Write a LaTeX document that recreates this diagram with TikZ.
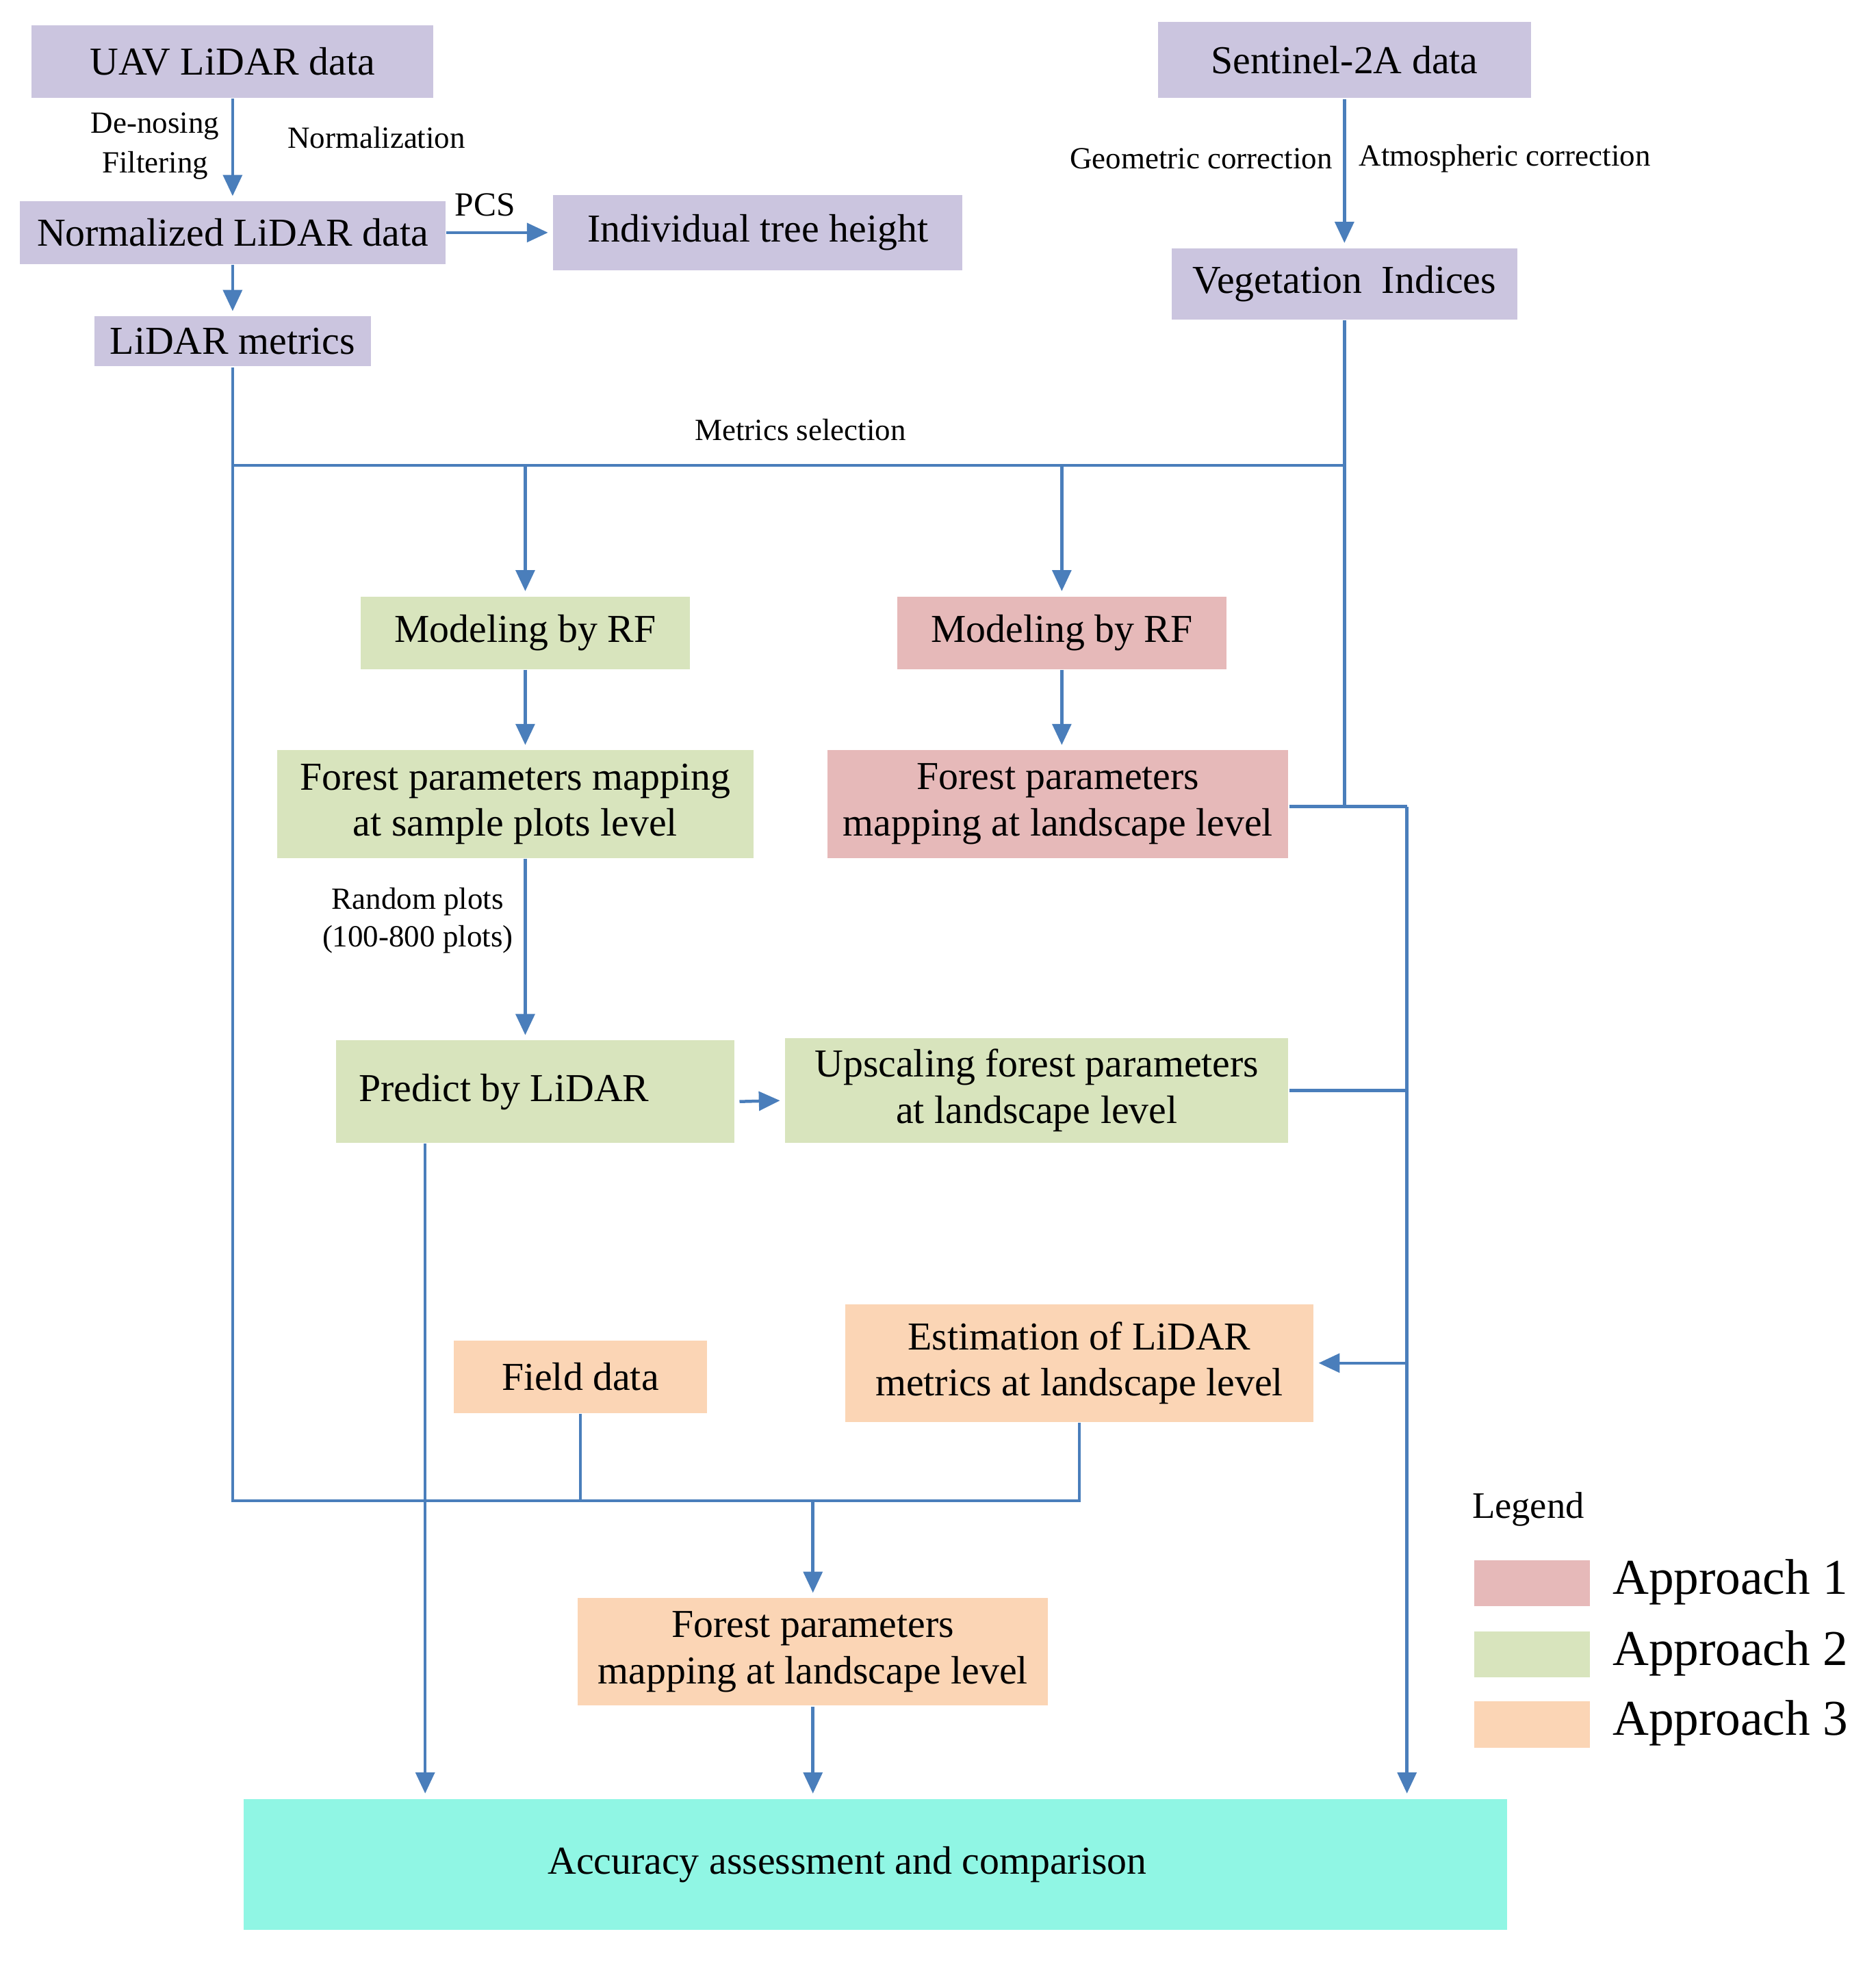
\documentclass[tikz,border=0pt]{standalone}
\usepackage{fontspec}
\setmainfont{Liberation Serif}
\usetikzlibrary{arrows.meta}

\definecolor{lavend}{HTML}{CBC5DF}
\definecolor{appone}{HTML}{E6B9B9}
\definecolor{apptwo}{HTML}{D8E4BD}
\definecolor{appthree}{HTML}{FBD5B5}
\definecolor{accfill}{HTML}{90F6E4}
\definecolor{wireblue}{HTML}{4A7EBB}

\begin{document}
\begin{tikzpicture}[x=0.01cm, y=-0.01cm,
    box/.style={fill=#1, inner sep=0pt, align=center,
        font=\fontsize{9}{10.5}\selectfont},
    lbl/.style={inner sep=0pt, align=center,
        font=\fontsize{7}{8.8}\selectfont},
    wire/.style={draw=wireblue, line width=0.7pt},
    arr/.style={-{Triangle[width=4.3pt,length=4.8pt]}, shorten >=1pt}]

    \useasboundingbox (0,0) rectangle (1500,1569);

    % input data
    \node[box=lavend, minimum width=3.21cm, minimum height=0.58cm] (uav) at (186,49) {UAV LiDAR data};
    \node[box=lavend, minimum width=2.98cm, minimum height=0.61cm] (sen) at (1075,48) {Sentinel-2A data};
    \node[box=lavend, minimum width=3.40cm, minimum height=0.50cm] (norm) at (186,186) {Normalized LiDAR data};
    \node[box=lavend, minimum width=3.27cm, minimum height=0.60cm] (tree) at (606,186) {Individual tree height};
    \node[box=lavend, minimum width=2.21cm, minimum height=0.40cm] (metr) at (186,273) {LiDAR metrics};
    \node[box=lavend, minimum width=2.76cm, minimum height=0.57cm] (veg) at (1075,227) {Vegetation\ \ Indices};

    % approaches 1 and 2
    \node[box=apptwo, minimum width=2.63cm, minimum height=0.58cm] (rftwo) at (420,506) {Modeling by RF};
    \node[box=appone, minimum width=2.63cm, minimum height=0.58cm] (rfone) at (849,506) {Modeling by RF};
    \node[box=apptwo, minimum width=3.81cm, minimum height=0.86cm] (fptwo) at (412,643) {Forest parameters mapping\\at sample plots level};
    \node[box=appone, minimum width=3.68cm, minimum height=0.86cm] (fpone) at (846,643) {Forest parameters\\mapping at landscape level};
    \node[box=apptwo, minimum width=3.18cm, minimum height=0.82cm] (pred) at (428,873) {Predict by LiDAR\hspace{0.5cm}};
    \node[box=apptwo, minimum width=4.02cm, minimum height=0.84cm] (up) at (829,872) {Upscaling forest parameters\\at landscape level};

    % approach 3
    \node[box=appthree, minimum width=2.02cm, minimum height=0.58cm] (field) at (464,1101) {Field data};
    \node[box=appthree, minimum width=3.74cm, minimum height=0.94cm] (est) at (863,1090) {Estimation of LiDAR\\metrics at landscape level};
    \node[box=appthree, minimum width=3.76cm, minimum height=0.86cm] (fpthree) at (650,1321) {Forest parameters\\mapping at landscape level};

    \node[box=accfill, minimum width=10.10cm, minimum height=1.05cm] (acc) at (700,1491) {Accuracy assessment and comparison\hspace{0.45cm}};

    % labels
    \node[lbl, font=\fontsize{7}{9}\selectfont] (denoise) at (124,117) {De-nosing\\Filtering};
    \node[lbl] (normlbl) at (301,110) {Normalization};
    \node[lbl, font=\fontsize{7.7}{9}\selectfont] (pcs) at (388,164) {PCS};
    \node[lbl, anchor=east] (geo) at (1066,127) {Geometric correction};
    \node[lbl, anchor=west] (atm) at (1086,127) {Atmospheric correction};
    \node[lbl] (sellbl) at (640,344) {Metrics selection};
    \node[lbl, font=\fontsize{7}{8.5}\selectfont] (rand) at (334,736) {Random plots\\(100-800 plots)};

    % legend
    \node[inner sep=0pt, font=\fontsize{8.5}{10}\selectfont] (leg) at (1222,1207) {Legend};
    \foreach \c/\n/\y in {appone/1/1266, apptwo/2/1323, appthree/3/1379} {
        \node[fill=\c, inner sep=0pt, minimum width=0.92cm, minimum height=0.37cm] (sw\n) at (1225,\y) {};
        \node[anchor=west, inner sep=0pt, font=\fontsize{11.4}{13}\selectfont] (app\n) at ([xshift=0.17cm,yshift=0.01cm]sw\n.east) {Approach \n};
    }

    \coordinate (sel) at (640,372);
    \coordinate (rcol) at (1125,645);
    \coordinate (base) at (650,1200);
    \coordinate (predout) at ([xshift=-0.88cm]pred.south);

    % connectors
    \draw[wire, arr] (uav) -- (norm);
    \draw[wire, arr] (norm) -- (metr);
    \draw[wire, arr] (norm) -- (tree);
    \draw[wire, arr] (sen) -- (veg);

    \draw[wire] (metr.south) -- (metr.south |- base) -- (est.south |- base) -- (est.south);
    \draw[wire] (metr.south |- sel) -- (sel -| veg);
    \draw[wire] (veg.south) -- (veg.south |- rcol);
    \draw[wire] (fpone.east |- rcol) -- (rcol);
    \draw[wire, arr] (sel -| rftwo) -- (rftwo.north);
    \draw[wire, arr] (sel -| rfone) -- (rfone.north);
    \draw[wire, arr] (rftwo) -- (rftwo |- fptwo.north);
    \draw[wire, arr] (rfone) -- (rfone |- fpone.north);
    \draw[wire, arr] (fptwo.south -| rftwo) -- (pred.north -| rftwo);
    \draw[wire, arr, shorten <=1pt] ([yshift=-0.08cm]pred.east) -- ([yshift=-0.08cm]up.west);

    \draw[wire, arr] (rcol) -- (rcol |- acc.north);
    \draw[wire] (up.east) -- (up.east -| rcol);
    \draw[wire, arr] (rcol |- est.east) -- (est.east);

    \draw[wire] (field.south) -- (field.south |- base);
    \draw[wire, arr] (base) -- (fpthree.north);
    \draw[wire, arr] (fpthree.south) -- (fpthree.south |- acc.north);
    \draw[wire, arr] (predout) -- (predout |- acc.north);
\end{tikzpicture}
\end{document}
